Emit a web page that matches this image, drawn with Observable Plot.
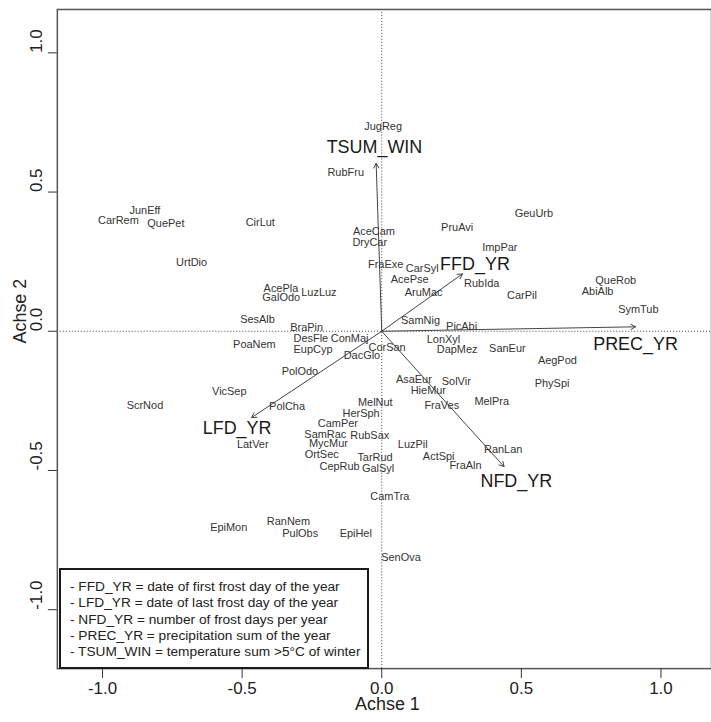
<!DOCTYPE html>
<html><head><meta charset="utf-8">
<script src="https://cdn.jsdelivr.net/npm/d3@7"></script>
<script src="https://cdn.jsdelivr.net/npm/@observablehq/plot@0.6"></script>
<style>
html,body{margin:0;padding:0;overflow:hidden;background:#fff}
#wrap{position:relative;width:711px;height:722px;overflow:hidden;font-family:"Liberation Sans",Arial,sans-serif}
#legend{position:absolute;left:59px;top:568px;width:310px;height:101px;box-sizing:border-box;border:2px solid #1a1a1a;background:#fff;padding:9px 0 0 9px;font-size:13.7px;line-height:16.3px;color:#222;white-space:nowrap}
</style></head><body><div id="wrap"></div>
<script>
// Species scores (Achse 1, Achse 2)
const species = ["JunEff","CarRem","QuePet","CirLut","RubFru","JugReg","GeuUrb","PruAvi","AceCam","DryCar",
"ImpPar","FraExe","CarSyl","AcePse","RubIda","AruMac","CarPil","QueRob","AbiAlb","SymTub",
"SamNig","PicAbi","LonXyl","DapMez","SanEur","AegPod","PhySpi","CorSan","DacGlo","ConMaj",
"DesFle","EupCyp","BraPin","SesAlb","PoaNem","AcePla","GalOdo","LuzLuz","UrtDio","PolOdo",
"VicSep","ScrNod","PolCha","LatVer","MelNut","HerSph","CamPer","SamRac","RubSax","MycMur",
"OrtSec","TarRud","CepRub","GalSyl","LuzPil","ActSpi","FraAln","RanLan","AsaEur","HieMur",
"SolVir","FraVes","MelPra","CamTra","EpiHel","SenOva","EpiMon","RanNem","PulObs"];
const speciesX = [-0.848,-0.943,-0.773,-0.435,-0.129,0.005,0.545,0.270,-0.028,-0.043,
0.423,0.014,0.145,0.100,0.358,0.150,0.502,0.838,0.773,0.919,
0.139,0.286,0.221,0.270,0.450,0.629,0.610,0.019,-0.071,-0.115,
-0.254,-0.246,-0.269,-0.445,-0.456,-0.361,-0.360,-0.225,-0.681,-0.293,
-0.546,-0.848,-0.339,-0.462,-0.023,-0.074,-0.157,-0.202,-0.043,-0.191,
-0.215,-0.024,-0.151,-0.013,0.111,0.204,0.300,0.435,0.115,0.167,
0.267,0.215,0.394,0.029,-0.093,0.069,-0.548,-0.334,-0.292];
const speciesY = [0.433,0.398,0.386,0.392,0.571,0.734,0.424,0.372,0.358,0.319,
0.302,0.239,0.227,0.185,0.171,0.140,0.128,0.183,0.142,0.078,
0.039,0.018,-0.030,-0.066,-0.062,-0.105,-0.187,-0.060,-0.087,-0.026,
-0.026,-0.066,0.012,0.042,-0.048,0.155,0.120,0.140,0.247,-0.143,
-0.217,-0.265,-0.271,-0.406,-0.256,-0.296,-0.332,-0.370,-0.376,-0.403,
-0.442,-0.453,-0.486,-0.493,-0.406,-0.450,-0.481,-0.424,-0.173,-0.211,
-0.179,-0.266,-0.253,-0.595,-0.725,-0.812,-0.704,-0.683,-0.725];

// Environmental vectors
const envVars = ["TSUM_WIN","FFD_YR","PREC_YR","NFD_YR","LFD_YR"];
const envX = [-0.020,0.289,0.909,0.438,-0.466];
const envY = [0.603,0.206,0.016,-0.486,-0.310];
const envLabelX = [-0.026,0.334,0.909,0.482,-0.518];
const envLabelY = [0.660,0.239,-0.045,-0.537,-0.349];

const xTicks = [-1,-0.5,0,0.5,1];
const yTicks = [-1,-0.5,0,0.5,1];
const xLabel = "Achse 1";
const yLabel = "Achse 2";
const legendLines = [
"- FFD_YR = date of first frost day of the year",
"- LFD_YR = date of last frost day of the year",
"- NFD_YR = number of frost days per year",
"- PREC_YR = precipitation sum of the year",
"- TSUM_WIN = temperature sum >5°C of winter"];

const spData = species.map((name,i)=>({name, x: speciesX[i], y: speciesY[i]}));
const envData = envVars.map((name,i)=>({name, x: envX[i], y: envY[i], lx: envLabelX[i], ly: envLabelY[i]}));
const fmt = d => d.toFixed(1);
const FONT = "Liberation Sans, Arial, sans-serif";

const chart = Plot.plot({
  width: 713, height: 722,
  marginLeft: 57, marginRight: 0, marginTop: 9, marginBottom: 52,
  style: {fontFamily: FONT, background: "#fff", overflow: "visible"},
  x: {domain: [-1.1618, 1.181]},
  y: {domain: [-1.2117, 1.1558]},
  marks: [
    Plot.ruleX([0], {stroke: "#444", strokeDasharray: "1,2", strokeWidth: 1}),
    Plot.ruleY([0], {stroke: "#444", strokeDasharray: "1,2", strokeWidth: 1}),
    Plot.arrow(envData, {x1: () => 0, y1: () => 0, x2: "x", y2: "y", stroke: "#444", strokeWidth: 1, headLength: 8, headAngle: 60}),
    Plot.text(spData, {x: "x", y: "y", text: "name", fontSize: 11, fill: "#333"}),
    Plot.text(envData, {x: "lx", y: "ly", text: "name", fontSize: 18, fill: "#1a1a1a"}),
    Plot.frame({stroke: "#555", strokeWidth: 1.5}),
    Plot.axisX({ticks: xTicks, tickSize: 10, tickFormat: () => "", label: null, stroke: "#333"}),
    Plot.axisY({ticks: yTicks, tickSize: 9, tickFormat: () => "", label: null, stroke: "#333"}),
    Plot.text(xTicks, {x: d => d, text: fmt, frameAnchor: "bottom", dy: 25, fontSize: 17, fill: "#222"}),
    Plot.text(yTicks, {y: d => d, text: fmt, frameAnchor: "left", dx: -21, rotate: -90, fontSize: 17, fill: "#222"}),
    Plot.text([xLabel], {text: d => d, frameAnchor: "bottom", dx: 3, dy: 42, fontSize: 18, fill: "#222"}),
    Plot.text([yLabel], {text: d => d, frameAnchor: "left", dx: -37, dy: 4.5, rotate: -90, fontSize: 18, fill: "#222"})
  ]
});
const wrap = document.getElementById("wrap");
wrap.appendChild(chart);
const leg = document.createElement("div");
leg.id = "legend";
leg.innerHTML = legendLines.map(s => "<div>" + s.replace(/&/g,"&amp;").replace(/>/g,"&gt;") + "</div>").join("");
wrap.appendChild(leg);
</script>
</body></html>
